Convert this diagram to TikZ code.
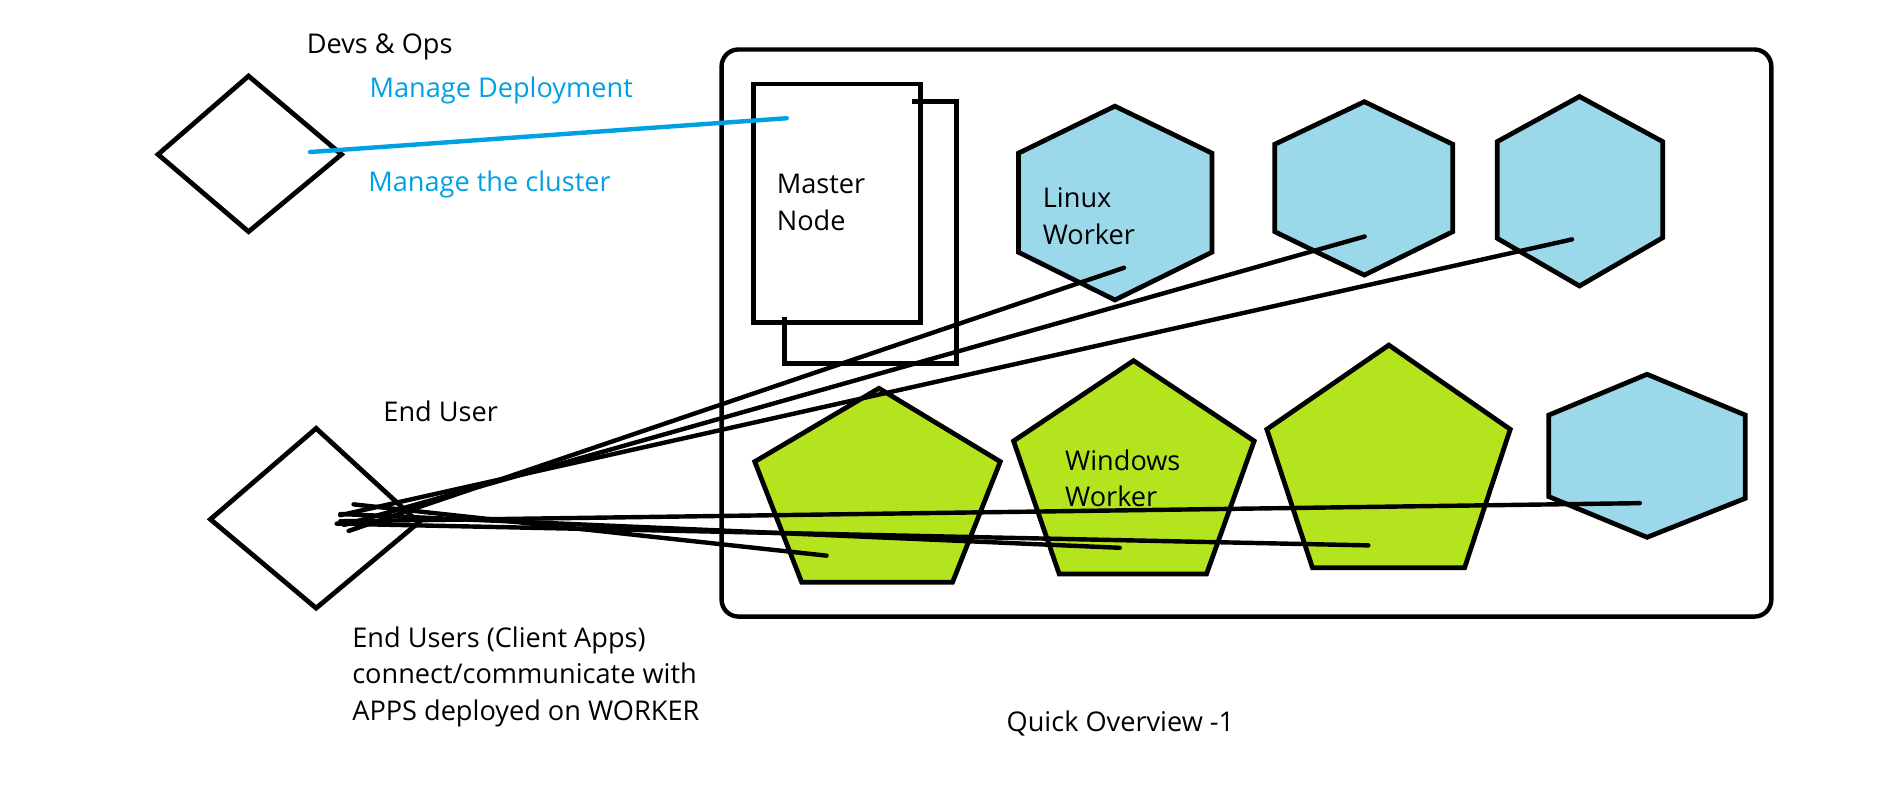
\documentclass[tikz,border=0pt]{standalone}
\usepackage{fontspec}
\setmainfont{Open Sans}
\definecolor{hexblue}{RGB}{155,217,234}
\definecolor{pentgreen}{RGB}{180,228,30}
\definecolor{mgblue}{RGB}{0,160,227}
\begin{document}
\begin{tikzpicture}[x=0.025cm,y=-0.025cm,
  shp/.style={draw=black, line width=2.8pt, line join=miter},
  hexw/.style={shp, fill=hexblue},
  pentw/.style={shp, fill=pentgreen},
  link/.style={draw=black, line width=2.6pt, line cap=round},
  mgmt/.style={draw=mgblue, line width=2.6pt, line cap=round},
  lbl/.style={anchor=west, inner sep=0pt, font=\fontsize{16}{21.6}\selectfont, align=left},
  bluelbl/.style={lbl, text=mgblue}]
\useasboundingbox (0,0) rectangle (1568,661);

% cluster box
\draw[line width=2.6pt, rounded corners=10pt] (598,41) rectangle (1468,511);

% master node
\draw[shp] (624.6,69.6) rectangle (763,267);
\draw[shp] (756,84) -- (793,84) -- (793,301) -- (650,301) -- (650,263);

% linux workers (hexagons)
\draw[hexw] (924,88) -- (1004.5,127) -- (1004.5,209) -- (924,248.6) -- (844,209) -- (844,127) -- cycle;
\draw[hexw] (1130.7,84.3) -- (1204,119.6) -- (1204,192) -- (1130.7,228) -- (1056.4,192) -- (1056.4,119.6) -- cycle;
\draw[hexw] (1309,80) -- (1378,117.4) -- (1378,197) -- (1309,237) -- (1240.8,197.5) -- (1240.8,117.4) -- cycle;
\draw[hexw] (1365,310.2) -- (1446.4,344) -- (1446.4,413) -- (1365,445.3) -- (1283.6,411.6) -- (1283.6,344) -- cycle;

% windows workers (pentagons)
\draw[pentw] (728.4,321.8) -- (829,382.6) -- (789.4,482.6) -- (664.4,482.6) -- (625.5,382.6) -- cycle;
\draw[pentw] (939.4,298.9) -- (1039.4,365.5) -- (999.9,475.7) -- (877.8,475.7) -- (840,365.5) -- cycle;
\draw[pentw] (1151,286) -- (1251.6,355.8) -- (1213.8,470.5) -- (1087.7,470.5) -- (1049.9,355.8) -- cycle;

% actors (diamonds)
\draw[shp] (206,63) -- (283,128) -- (206,192) -- (131,128) -- cycle;
\draw[shp] (262,355) -- (347,433) -- (262,504) -- (174.4,430.4) -- cycle;

% connector end points
\coordinate (devs) at (257,126);
\coordinate (master) at (652,98);
\coordinate (euA) at (289,440);
\coordinate (euB) at (285,435);
\coordinate (euC) at (282,427);
\coordinate (euD) at (293,418);
\coordinate (euE) at (282,426);
\coordinate (euF) at (279,434);
\coordinate (euG) at (282,432);
\coordinate (linux1) at (931.6,221.9);
\coordinate (linux2) at (1131,196);
\coordinate (linux3) at (1302.8,198.4);
\coordinate (linux4) at (1359,417);
\coordinate (win1) at (685,460.5);
\coordinate (win2) at (928,454);
\coordinate (win3) at (1134,452);

% end user connections
\draw[link] (euA) -- (linux1);
\draw[link] (euB) -- (linux2);
\draw[link] (euC) -- (linux3);
\draw[link] (euD) -- (win1);
\draw[link] (euE) -- (win2);
\draw[link] (euF) -- (win3);
\draw[link] (euG) -- (linux4);

% management connection
\draw[mgmt] (devs) -- (master);

% labels
\node[lbl] (devsops) at (254,38.5) {Devs \& Ops};
\node[bluelbl] (mdeploy) at (306,75) {Manage Deployment};
\node[bluelbl] (mcluster) at (305,153) {Manage the cluster};
\node[lbl] (mastertxt) at (643.5,168) {Master\\Node};
\node[lbl] (linuxtxt) at (864,179) {Linux\\Worker};
\node[lbl] (endusertxt) at (317.5,340.5) {End User};
\node[lbl] (wintxt) at (882.5,396.5) {Windows\\Worker};
\node[lbl] (eudesc) at (291.7,561) {End Users (Client Apps)\\connect/communicate with\\APPS deployed on WORKER};
\node[lbl] (title) at (834,599.4) {Quick Overview -1};
\end{tikzpicture}
\end{document}
